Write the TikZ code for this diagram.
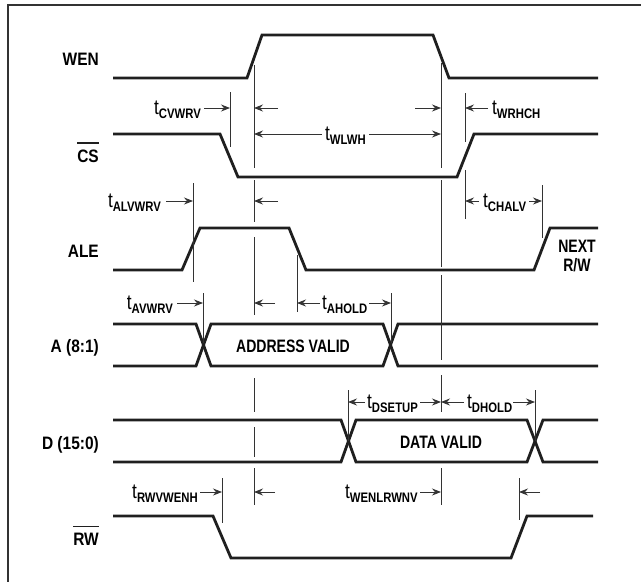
\documentclass[tikz,border=0pt]{standalone}
\usepackage{fontspec}
\setmainfont{Liberation Sans}[FakeStretch=0.78]
\newfontfamily\namefont{Liberation Sans}[FakeStretch=0.86]
\newfontfamily\timefont{Liberation Sans}[FakeStretch=0.82]
\usetikzlibrary{arrows.meta}
\newcommand\tlab[1]{{\timefont\fontsize{21}{21}\selectfont t}{\timefont\bfseries\fontsize{13.8}{13.8}\selectfont\raisebox{-4pt}{#1}}}
\begin{document}
\begin{tikzpicture}[x=1pt,y=-1pt,
  sig/.style={line width=2.8pt, draw=black!88, line join=miter},
  vl/.style={line width=0.8pt, draw=black!80},
  arr/.style={line width=0.8pt, draw=black!80, -{Stealth[length=9pt,width=7pt,inset=3pt]}},
  signame/.style={font=\namefont\bfseries\fontsize{18}{18}\selectfont, inner sep=0pt, anchor=base east},
  inbox/.style={font=\bfseries\fontsize{18}{18}\selectfont, inner sep=0pt, anchor=base},
  tl/.style={inner sep=0pt},
  frame/.style={line width=2pt, draw=black!80}
]
\useasboundingbox (0,0) rectangle (641,582);
% frame (top and left only)
\coordinate (fa) at (641,5);
\coordinate (fb) at (8,5);
\coordinate (fc) at (8,582);
\draw[frame] (fa) -- (fb) -- (fc);

% signal names
\node[signame] (wen) at (99,65) {WEN};
\node[signame] (cs) at (99,162) {CS};
\draw[line width=1.6pt, black!88] ([yshift=6pt]cs.north west) -- ([yshift=6pt]cs.north east);
\node[signame] (ale) at (99,257) {ALE};
\node[signame] (addr) at (99,352) {A (8:1)};
\node[signame] (data) at (99,449) {D (15:0)};
\node[signame] (rw) at (99,545) {RW};
\draw[line width=1.6pt, black!88] ([yshift=6pt]rw.north west) -- ([yshift=6pt]rw.north east);
\node[inbox] (next) at (577,252) {NEXT};
\node[inbox] (nrw) at (577,271) {R/W};
\node[inbox] (av) at (293,352) {ADDRESS VALID};
\node[inbox] (dv) at (441,448) {DATA VALID};

% waveforms
\draw[sig] (113,78) -- (247,78) -- (262,35) -- (433,35) -- (449,78) -- (598,78);
\draw[sig] (113,134) -- (220,134) -- (238,177) -- (457,177) -- (474,134) -- (598,134);
\draw[sig] (113,270) -- (182,270) -- (200,228) -- (289,228) -- (306,270) -- (534,270) -- (550,228) -- (598,228);
\draw[sig] (113,324) -- (196,324) -- (211,366) -- (383,366) -- (398,324) -- (598,324);
\draw[sig] (113,366) -- (196,366) -- (211,324) -- (383,324) -- (398,366) -- (598,366);
\draw[sig] (113,420) -- (341,420) -- (356,462) -- (527,462) -- (543,420) -- (598,420);
\draw[sig] (113,462) -- (341,462) -- (356,420) -- (527,420) -- (543,462) -- (598,462);
\draw[sig] (113,516) -- (213,516) -- (231,558) -- (511,558) -- (527,516) -- (593,516);

% long reference lines
\foreach \a/\b in {65/168,180/222,237/315,378/412,427/457,468/505}
  \draw[vl] (254,\a) -- (254,\b);
\foreach \a/\b in {63/168,180/267,275/360,375/412,468/505}
  \draw[vl] (441,\a) -- (441,\b);

% short reference lines
\draw[vl] (230,92) -- (230,147);
\draw[vl] (465,93) -- (465,142);
\draw[vl] (465,170) -- (465,219);
\draw[vl] (193,183) -- (193,282);
\draw[vl] (542,185) -- (542,238);
\draw[vl] (203,293) -- (203,343);
\draw[vl] (297,255) -- (297,312);
\draw[vl] (391,293) -- (391,343);
\draw[vl] (348,390) -- (348,441);
\draw[vl] (535,390) -- (535,441);
\draw[vl] (222,478) -- (222,523);
\draw[vl] (519,478) -- (519,520);

% timing labels
\node[tl, anchor=base east] (cvwrv) at (201,114) {\tlab{CVWRV}};
\node[tl, anchor=base west] (wrhch) at (492,114) {\tlab{WRHCH}};
\node[tl, anchor=base west] (wlwh) at (325,140) {\tlab{WLWH}};
\node[tl, anchor=base east] (alvwrv) at (161,207) {\tlab{ALVWRV}};
\node[tl, anchor=base west] (chalv) at (483,207) {\tlab{CHALV}};
\node[tl, anchor=base east] (avwrv) at (173,309) {\tlab{AVWRV}};
\node[tl, anchor=base west] (ahold) at (322,309) {\tlab{AHOLD}};
\node[tl, anchor=base west] (dsetup) at (367,408) {\tlab{DSETUP}};
\node[tl, anchor=base west] (dhold) at (467,408) {\tlab{DHOLD}};
\node[tl, anchor=base east] (rwvwenh) at (198,498) {\tlab{RWVWENH}};
\node[tl, anchor=base west] (wenlrwnv) at (345,498) {\tlab{WENLRWNV}};

% dimension arrows
\draw[arr] (204,108) -- (230,108);
\draw[arr] (278,108) -- (254,108);
\draw[arr] (415,108) -- (441,108);
\draw[arr] (488,108) -- (465,108);
\draw[arr] (322,134) -- (254,134);
\draw[arr] (369,134) -- (441,134);
\draw[arr] (166,201) -- (193,201);
\draw[arr] (278,201) -- (254,201);
\draw[arr] (479,201) -- (465,201);
\draw[arr] (529,201) -- (542,201);
\draw[arr] (177,303) -- (203,303);
\draw[arr] (275,303) -- (254,303);
\draw[arr] (320,303) -- (297,303);
\draw[arr] (369,303) -- (391,303);
\draw[arr] (365,402) -- (348,402);
\draw[arr] (420,402) -- (441,402);
\draw[arr] (464,402) -- (441,402);
\draw[arr] (513,402) -- (535,402);
\draw[arr] (200,492) -- (222,492);
\draw[arr] (275,492) -- (254,492);
\draw[arr] (420,492) -- (441,492);
\draw[arr] (540,492) -- (519,492);
\end{tikzpicture}
\end{document}
